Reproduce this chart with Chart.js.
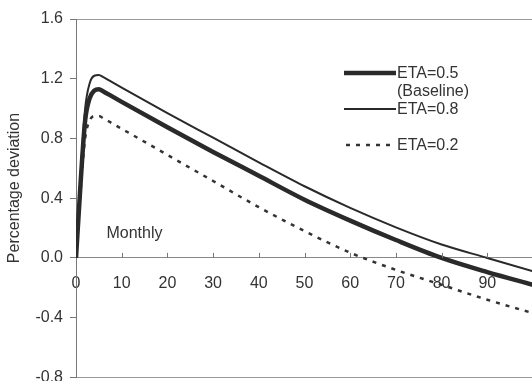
<!DOCTYPE html>
<html>
<head>
<meta charset="utf-8">
<script src="https://cdn.jsdelivr.net/npm/chart.js@4/dist/chart.umd.min.js"></script>
<style>
html,body{margin:0;padding:0;background:#fff;overflow:hidden;}
#wrap{width:532px;height:381px;overflow:hidden;position:relative;}
canvas{display:block;}
</style>
</head>
<body>
<div id="wrap"><canvas id="c" width="536" height="394"></canvas></div>
<script>
// Data
const months   = [0, 1, 2, 3, 4, 5, 6, 8, 10, 20, 30, 40, 50, 60, 70, 80, 90, 100];
const eta05    = [0, 0.50, 0.92, 1.07, 1.12, 1.13, 1.115, 1.08, 1.045, 0.875, 0.71, 0.55, 0.39, 0.25, 0.12, 0.0, -0.095, -0.18];
const eta08    = [0, 0.55, 1.00, 1.17, 1.22, 1.225, 1.21, 1.175, 1.14, 0.97, 0.805, 0.64, 0.48, 0.335, 0.205, 0.09, 0.0, -0.09];
const eta02    = [0, 0.45, 0.80, 0.92, 0.95, 0.95, 0.935, 0.90, 0.865, 0.69, 0.515, 0.34, 0.18, 0.035, -0.08, -0.18, -0.28, -0.37];
const seriesNames = ['ETA=0.5', 'ETA=0.8', 'ETA=0.2'];
const legendSub = '(Baseline)';
const xTicks = [0, 10, 20, 30, 40, 50, 60, 70, 80, 90];
const yTicks = [-0.8, -0.4, 0.0, 0.4, 0.8, 1.2, 1.6];
const yTitle = 'Percentage deviation';
const note = 'Monthly';

const FONT = '"Liberation Sans", Arial, sans-serif';
const TXT = '#333';
const pts = arr => months.map((m, i) => ({x: m, y: arr[i]}));

const extras = {
  id: 'extras',
  afterDraw(chart) {
    const ctx = chart.ctx, xs = chart.scales.x, ys = chart.scales.y;
    ctx.save();
    // x tick marks pointing up from the zero axis
    ctx.strokeStyle = '#777'; ctx.lineWidth = 1;
    const y0 = ys.getPixelForValue(0);
    xTicks.forEach(t => {
      if (t === 0) return;
      const px = Math.round(xs.getPixelForValue(t)) + 0.5;
      ctx.beginPath(); ctx.moveTo(px, y0); ctx.lineTo(px, y0 - 5); ctx.stroke();
    });
    // y title
    ctx.fillStyle = TXT;
    ctx.font = '16px ' + FONT;
    ctx.textAlign = 'center'; ctx.textBaseline = 'middle';
    ctx.translate(15, 188); ctx.rotate(-Math.PI / 2);
    ctx.fillText(yTitle, 0, 0);
    ctx.setTransform(1, 0, 0, 1, 0, 0);
    // note
    ctx.textAlign = 'center';
    ctx.fillText(note, xs.getPixelForValue(12.8), ys.getPixelForValue(0.16));
    // legend
    const ds = chart.data.datasets;
    const rows = [73, 109, 145];
    ctx.textAlign = 'left';
    ds.forEach((d, i) => {
      const y = rows[i];
      ctx.strokeStyle = d.borderColor; ctx.lineWidth = d.borderWidth;
      ctx.setLineDash(d.borderDash || []);
      ctx.beginPath();
      if (d.borderDash) { ctx.moveTo(346, y); ctx.lineTo(392, y); }
      else { ctx.moveTo(344, y); ctx.lineTo(396, y); }
      ctx.stroke();
      ctx.setLineDash([]);
      ctx.fillStyle = TXT;
      ctx.fillText(d.label, 397, y + 1);
      if (i === 0) ctx.fillText(legendSub, 397, 92);
    });
    ctx.restore();
  }
};

new Chart(document.getElementById('c'), {
  type: 'line',
  data: {
    datasets: [
      {label: seriesNames[0], data: pts(eta05), borderColor: '#2a2a2a', borderWidth: 4.5, pointRadius: 0, cubicInterpolationMode: 'monotone', fill: false},
      {label: seriesNames[1], data: pts(eta08), borderColor: '#2a2a2a', borderWidth: 2, pointRadius: 0, cubicInterpolationMode: 'monotone', fill: false},
      {label: seriesNames[2], data: pts(eta02), borderColor: '#333', borderWidth: 2.5, borderDash: [4, 6], pointRadius: 0, cubicInterpolationMode: 'monotone', fill: false}
    ]
  },
  options: {
    responsive: false,
    animation: false,
    devicePixelRatio: 1,
    layout: {padding: {left: 0, right: 3, top: 19, bottom: 9}},
    plugins: {legend: {display: false}, tooltip: {enabled: false}},
    scales: {
      x: {
        type: 'linear', min: 0, max: 100,
        position: {y: 0},
        afterBuildTicks: s => { s.ticks = xTicks.map(v => ({value: v})); },
        grid: {display: false, drawTicks: false},
        border: {display: true, color: '#888', width: 1},
        ticks: {color: TXT, font: {family: FONT, size: 16}, padding: 16, maxRotation: 0, autoSkip: false}
      },
      y: {
        min: -0.8, max: 1.6,
        afterBuildTicks: s => { s.ticks = yTicks.map(v => ({value: v})); },
        afterFit: s => { s.width = 76; },
        grid: {
          drawOnChartArea: true, drawTicks: true, tickLength: 6, tickColor: '#777',
          color: c => (c.tick && (Math.abs(c.tick.value - 1.6) < 1e-6 || Math.abs(c.tick.value + 0.8) < 1e-6)) ? '#999' : 'rgba(0,0,0,0)'
        },
        border: {display: true, color: '#777', width: 1},
        ticks: {color: TXT, font: {family: FONT, size: 16}, padding: 7, callback: v => v.toFixed(1)}
      }
    }
  },
  plugins: [extras]
});
</script>
</body>
</html>
